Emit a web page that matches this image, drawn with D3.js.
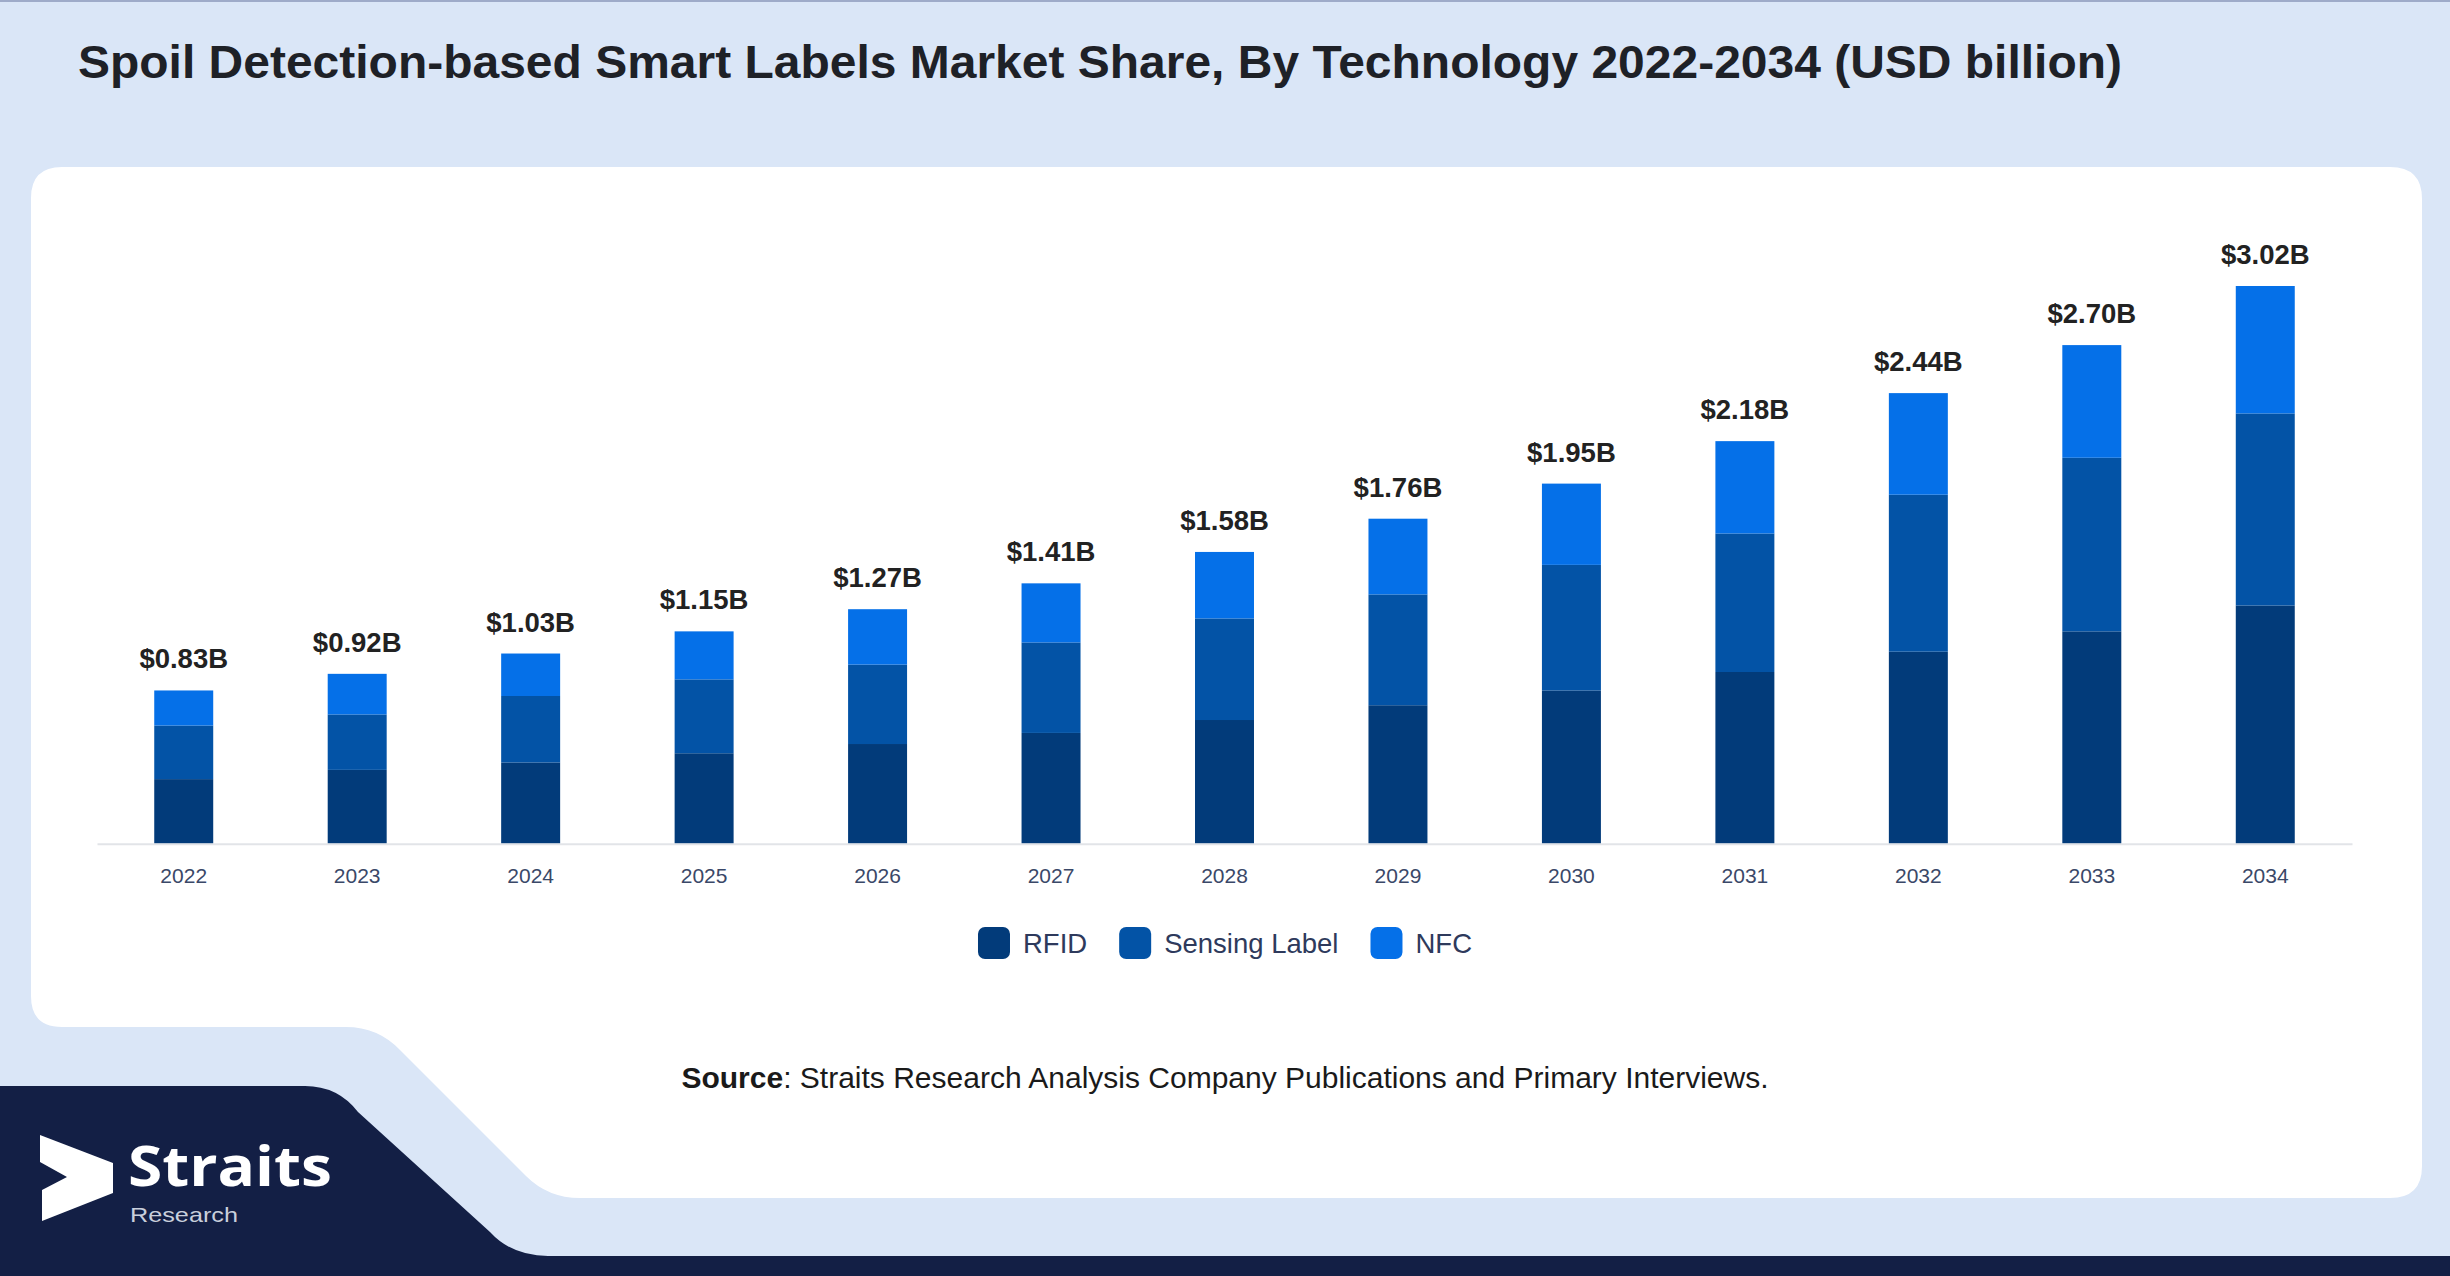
<!DOCTYPE html>
<html>
<head>
<meta charset="utf-8">
<title>Spoil Detection-based Smart Labels Market Share</title>
<script src="https://d3js.org/d3.v7.min.js"></script>
<style>
  html, body { margin: 0; padding: 0; background: #dae6f7; }
  svg { display: block; }
</style>
</head>
<body>
<script>

var years = ["2022","2023","2024","2025","2026","2027","2028","2029","2030","2031","2032","2033","2034"];
var rfid    = [0.35,0.40,0.44,0.49,0.54,0.60,0.67,0.75,0.83,0.93,1.04,1.15,1.29];
var sensing = [0.29,0.30,0.36,0.40,0.43,0.49,0.55,0.60,0.68,0.75,0.85,0.94,1.04];
var nfc     = [0.19,0.22,0.23,0.26,0.30,0.32,0.36,0.41,0.44,0.50,0.55,0.61,0.69];
var totalLabels = ["$0.83B","$0.92B","$1.03B","$1.15B","$1.27B","$1.41B","$1.58B","$1.76B","$1.95B","$2.18B","$2.44B","$2.70B","$3.02B"];
var seriesNames = ["RFID","Sensing Label","NFC"];
var seriesColors = ["#023b7a","#0353a6","#0570e8"];

var W = 2450, H = 1276;

var svg = d3.select("body").append("svg")
  .attr("width", W)
  .attr("height", H);

// background
svg.append("rect").attr("width", W).attr("height", H).attr("fill", "#dae6f7");
svg.append("rect").attr("width", W).attr("height", 2).attr("fill", "#9eabc9");

// white card with stepped bottom-left
svg.append("path")
  .attr("d", "M62,167 H2390 Q2422,167 2422,199 V1166 Q2422,1198 2390,1198 H580" +
             " Q548,1198 526,1176 L400,1050 Q378,1027 346,1027 H62 Q31,1027 31,996 V198 Q31,167 62,167 Z")
  .attr("fill", "#ffffff");

// navy band + logo area
svg.append("path")
  .attr("d", "M0,1086 H305 Q338,1086 358,1112 L490,1232 Q512,1256 548,1256 H2450 V1276 H0 Z")
  .attr("fill", "#131f45");

// title
svg.append("text")
  .attr("x", 78)
  .attr("y", 78)
  .attr("font-family", "'Liberation Sans Narrow', 'Liberation Sans', Arial, sans-serif")
  .attr("font-weight", "bold")
  .attr("font-size", 47)
  .attr("fill", "#1e2127")
  .attr("textLength", 2044)
  .attr("lengthAdjust", "spacingAndGlyphs")
  .text("Spoil Detection-based Smart Labels Market Share, By Technology 2022-2034 (USD billion)");

// chart
var data = years.map(function(y, i) {
  return { year: y, rfid: rfid[i], sensing: sensing[i], nfc: nfc[i], label: totalLabels[i] };
});
var keys = ["rfid", "sensing", "nfc"];

var x = d3.scaleBand()
  .domain(years)
  .range([97, 2352])
  .paddingInner(0.66)
  .paddingOuter(0.33);

var y = d3.scaleLinear()
  .domain([0, 3.02])
  .range([843.75, 286]);

var stacked = d3.stack().keys(keys)(data);

var g = svg.append("g");

g.selectAll("g.layer")
  .data(stacked)
  .enter().append("g")
    .attr("class", "layer")
    .attr("fill", function(d, i) { return seriesColors[i]; })
  .selectAll("rect")
  .data(function(d) { return d; })
  .enter().append("rect")
    .attr("x", function(d) { return x(d.data.year); })
    .attr("y", function(d) { return y(d[1]); })
    .attr("width", x.bandwidth())
    .attr("height", function(d) { return y(d[0]) - y(d[1]); });

// axis
var axis = g.append("g")
  .attr("transform", "translate(0," + y(0) + ")")
  .call(d3.axisBottom(x).tickSize(0).tickPadding(24));
axis.select(".domain").attr("stroke", "#e2e4e8").attr("stroke-width", 2);
axis.selectAll("text")
  .attr("font-family", "'Liberation Sans', Arial, sans-serif")
  .attr("font-size", 21)
  .attr("fill", "#3a4868");

// totals
g.selectAll("text.total")
  .data(data)
  .enter().append("text")
    .attr("class", "total")
    .attr("x", function(d) { return x(d.year) + x.bandwidth() / 2; })
    .attr("y", function(d) { return y(d.rfid + d.sensing + d.nfc) - 22; })
    .attr("text-anchor", "middle")
    .attr("font-family", "'Liberation Sans', Arial, sans-serif")
    .attr("font-weight", "bold")
    .attr("font-size", 27.5)
    .attr("fill", "#222222")
    .text(function(d) { return d.label; });

// legend
var legend = svg.append("g");
var lx = 0;
seriesNames.forEach(function(name, i) {
  var item = legend.append("g").attr("transform", "translate(" + lx + ",0)");
  item.append("rect")
    .attr("x", 0).attr("y", -16)
    .attr("width", 32).attr("height", 32)
    .attr("rx", 7)
    .attr("fill", seriesColors[i]);
  var t = item.append("text")
    .attr("x", 45).attr("y", 10)
    .attr("font-family", "'Liberation Sans', Arial, sans-serif")
    .attr("font-size", 27.5)
    .attr("fill", "#2e3a5c")
    .text(name);
  lx += 45 + t.node().getComputedTextLength() + 32;
});
lx -= 32;
legend.attr("transform", "translate(" + (1225 - lx / 2) + ",943)");

// source
var src = svg.append("text")
  .attr("x", 1225)
  .attr("y", 1088)
  .attr("text-anchor", "middle")
  .attr("font-family", "'Liberation Sans', Arial, sans-serif")
  .attr("font-size", 30)
  .attr("fill", "#1a1a1a");
src.append("tspan").attr("font-weight", "bold").text("Source");
src.append("tspan").text(": Straits Research Analysis Company Publications and Primary Interviews.");

// logo
var logo = svg.append("g");
logo.append("path")
  .attr("d", "M40,1135 L113,1163 L113,1193 L42,1221 L42,1190 L67,1177 L40,1162 Z")
  .attr("fill", "#ffffff");
logo.append("text")
  .attr("x", 128).attr("y", 1186)
  .attr("font-family", "'Open Sans', 'Noto Sans', sans-serif")
  .attr("font-weight", "bold")
  .attr("font-size", 56)
  .attr("fill", "#ffffff")
  .attr("textLength", 204)
  .attr("lengthAdjust", "spacingAndGlyphs")
  .text("Straits");
logo.append("text")
  .attr("x", 130).attr("y", 1222)
  .attr("font-family", "'Liberation Sans', Arial, sans-serif")
  .attr("font-size", 21)
  .attr("fill", "#c9cfdc")
  .attr("textLength", 108)
  .attr("lengthAdjust", "spacingAndGlyphs")
  .text("Research");

</script>
</body>
</html>
